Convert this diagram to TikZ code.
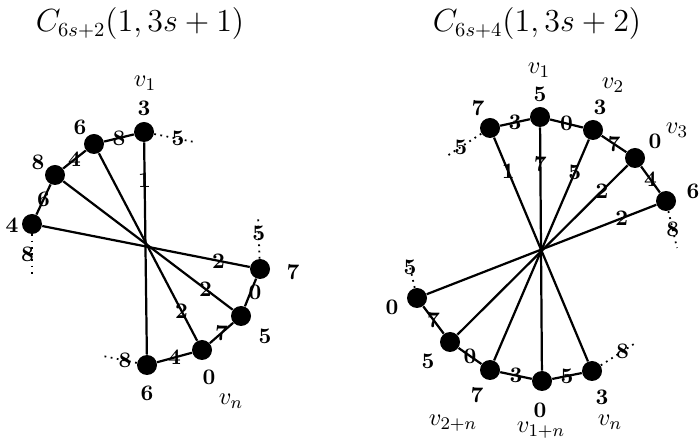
\documentclass[tikz,border=0pt]{standalone}
\usepackage{tikz}
\usetikzlibrary{positioning}

\begin{document}
\begin{tikzpicture}[
    x=0.45pt, y=-0.45pt,
    vertex/.style={circle, fill=black, inner sep=0pt, minimum size=9pt},
    vlab/.style={font=\bfseries, inner sep=0pt},
    elab/.style={font=\bfseries, inner sep=0pt},
    vname/.style={font=\fontsize{11}{13}\selectfont},
    edge/.style={line width=1pt},
    dots/.style={dotted, line width=0.8pt},
    title/.style={font=\fontsize{13.5}{16}\selectfont}
]
\useasboundingbox (0,0) rectangle (699,443);

% Titles
\node[title] (titleA) at (140,24) {$C_{6s+2}(1,3s+1)$};
\node[title] (titleB) at (537,24) {$C_{6s+4}(1,3s+2)$};

% Left graph
\node[vertex] (a1) at (144,132) {};
\node[vertex] (a2) at (94,144) {};
\node[vertex] (a3) at (55,175) {};
\node[vertex] (a4) at (32,224) {};
\node[vertex] (a5) at (260,269) {};
\node[vertex] (a6) at (241,316) {};
\node[vertex] (a7) at (202,350) {};
\node[vertex] (a8) at (147,365) {};

\node[vlab] (la1) at (144,108) {3};
\node[vlab] (la2) at (80,127) {6};
\node[vlab] (la3) at (38,162) {8};
\node[vlab] (la4) at (12,225) {4};
\node[vlab] (la5) at (293,272) {7};
\node[vlab] (la6) at (265,336) {5};
\node[vlab] (la7) at (209,377) {0};
\node[vlab] (la8) at (147,393) {6};
\node[vname] (va1) at (145,83) {$v_1$};
\node[vname] (van) at (231,401) {$v_n$};

% cycle edges
\draw[edge] (a1) -- node[elab] {8} (a2);
\draw[edge] (a2) -- node[elab] {4} (a3);
\draw[edge] (a3) -- node[elab] {6} (a4);
\draw[edge] (a5) -- node[elab, xshift=2pt] {0} (a6);
\draw[edge] (a6) -- node[elab] {7} (a7);
\draw[edge] (a7) -- node[elab] {4} (a8);

% diameters
\draw[edge] (a1) -- node[elab, pos=0.18] {1} (a8);
\draw[edge] (a2) -- node[elab, pos=0.84] {2} (a7);
\draw[edge] (a3) -- node[elab, pos=0.84] {2} (a6);
\draw[edge] (a4) -- node[elab, pos=0.85] {2} (a5);

% dotted ends
\coordinate (da1) at (194,142);
\coordinate (da4) at (32,274);
\coordinate (da5) at (258,216);
\coordinate (da8) at (103,356);
\draw[dots] (a1) -- node[elab, pos=0.6] {5} (da1);
\draw[dots] (a4) -- node[elab, xshift=-2pt] {8} (da4);
\draw[dots] (a5) -- node[elab, pos=0.6] {5} (da5);
\draw[dots] (a8) -- node[elab, pos=0.35] {8} (da8);

% Right graph
\node[vertex] (b1) at (490,128) {};
\node[vertex] (b2) at (540,117) {};
\node[vertex] (b3) at (593,130) {};
\node[vertex] (b4) at (635,158) {};
\node[vertex] (b5) at (666,201) {};
\node[vertex] (b6) at (417,298) {};
\node[vertex] (b7) at (450,342) {};
\node[vertex] (b8) at (490,370) {};
\node[vertex] (b9) at (542,381) {};
\node[vertex] (b10) at (592,371) {};

\node[vlab] (lb1) at (478,108) {7};
\node[vlab] (lb2) at (540,94) {5};
\node[vlab] (lb3) at (600,107) {3};
\node[vlab] (lb4) at (655,141) {0};
\node[vlab] (lb5) at (693,191) {6};
\node[vlab] (lb6) at (392,307) {0};
\node[vlab] (lb7) at (428,361) {5};
\node[vlab] (lb8) at (477,395) {7};
\node[vlab] (lb9) at (540,410) {0};
\node[vlab] (lb10) at (602,397) {3};
\node[vname] (vb1) at (539,70) {$v_1$};
\node[vname] (vb2) at (613,85) {$v_2$};
\node[vname] (vb3) at (677,130) {$v_3$};
\node[vname] (vb8) at (453,423) {$v_{2+n}$};
\node[vname] (vb9) at (541,430) {$v_{1+n}$};
\node[vname] (vb10) at (610,422) {$v_n$};

% cycle edges
\draw[edge] (b1) -- node[elab] {3} (b2);
\draw[edge] (b2) -- node[elab] {0} (b3);
\draw[edge] (b3) -- node[elab] {7} (b4);
\draw[edge] (b4) -- node[elab] {4} (b5);
\draw[edge] (b6) -- node[elab] {7} (b7);
\draw[edge] (b7) -- node[elab] {0} (b8);
\draw[edge] (b8) -- node[elab] {3} (b9);
\draw[edge] (b9) -- node[elab] {5} (b10);

% diameters
\draw[edge] (b1) -- node[elab, pos=0.15] {1} (b10);
\draw[edge] (b2) -- node[elab, pos=0.15] {7} (b9);
\draw[edge] (b3) -- node[elab, pos=0.15] {5} (b8);
\draw[edge] (b4) -- node[elab, pos=0.15] {2} (b7);
\draw[edge] (b5) -- node[elab, pos=0.15] {2} (b6);

% dotted ends
\coordinate (db1) at (447,156);
\coordinate (db5) at (677,248);
\coordinate (db6) at (408,258);
\coordinate (db10) at (637,342);
\draw[dots] (b1) -- node[elab, pos=0.6] {5} (db1);
\draw[dots] (b5) -- node[elab, pos=0.5] {8} (db5);
\draw[dots] (b6) -- node[elab, pos=0.7] {5} (db6);
\draw[dots] (b10) -- node[elab, pos=0.6] {8} (db10);

\end{tikzpicture}
\end{document}
